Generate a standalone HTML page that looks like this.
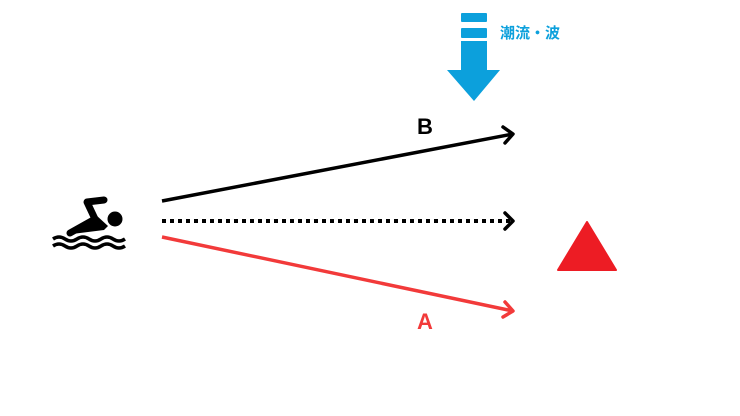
<!DOCTYPE html>
<html><head><meta charset="utf-8"><style>
html,body{margin:0;padding:0;background:#fff;width:740px;height:416px;overflow:hidden}
</style></head><body>
<svg width="740" height="416" viewBox="0 0 740 416" xmlns="http://www.w3.org/2000/svg">
<rect width="740" height="416" fill="#fff"/>
<g fill="#0ca0dc">
<rect x="461" y="13" width="26" height="9" rx="1"/>
<rect x="461" y="28" width="26" height="10" rx="1"/>
<rect x="461" y="41" width="26" height="30"/>
<polygon points="447,70 500,70 474,101"/>
</g>
<text x="500" y="38" font-family="Liberation Sans, Noto Sans CJK JP, sans-serif" font-size="15" font-weight="bold" fill="#0ca0dc">潮流・波</text>
<g fill="#000">
<circle cx="115" cy="219" r="7.5"/>
<path d="M104,200 L87,202 L95,219 L70,233" fill="none" stroke="#000" stroke-width="7" stroke-linejoin="round" stroke-linecap="round"/>
<polygon points="72,234 96,215 108,226 104,230"/>
<path d="M53,239 q6,-4 12,0 t12,0 t12,0 t12,0 t12,0 t12,0" fill="none" stroke="#000" stroke-width="3.5"/>
<path d="M53,246 q6,-4 12,0 t12,0 t12,0 t12,0 t12,0 t12,0" fill="none" stroke="#000" stroke-width="3.5"/>
</g>
<g fill="none" stroke-width="3.5" stroke-linecap="round" stroke-linejoin="round">
<line x1="162" y1="201" x2="513" y2="134" stroke="#000" stroke-linecap="butt"/>
<polyline points="503,127 513,134 505,143" stroke="#000"/>
<line x1="162" y1="221" x2="510" y2="221" stroke="#000" stroke-width="4" stroke-dasharray="4 4" stroke-linecap="butt"/>
<polyline points="505,213 513,221 505,229" stroke="#000"/>
<line x1="162" y1="237" x2="513" y2="311" stroke="#f23a3a" stroke-linecap="butt"/>
<polyline points="505,302 513,311 503,317" stroke="#f23a3a"/>
</g>
<text x="425" y="134" text-anchor="middle" font-family="Liberation Sans, sans-serif" font-size="22" font-weight="bold" fill="#000">B</text>
<text x="425" y="329" text-anchor="middle" font-family="Liberation Sans, sans-serif" font-size="22" font-weight="bold" fill="#f23a3a">A</text>
<polygon points="587,222 616,270 558,270" fill="#ed1c24" stroke="#ed1c24" stroke-width="2" stroke-linejoin="round"/>
</svg>
</body></html>
